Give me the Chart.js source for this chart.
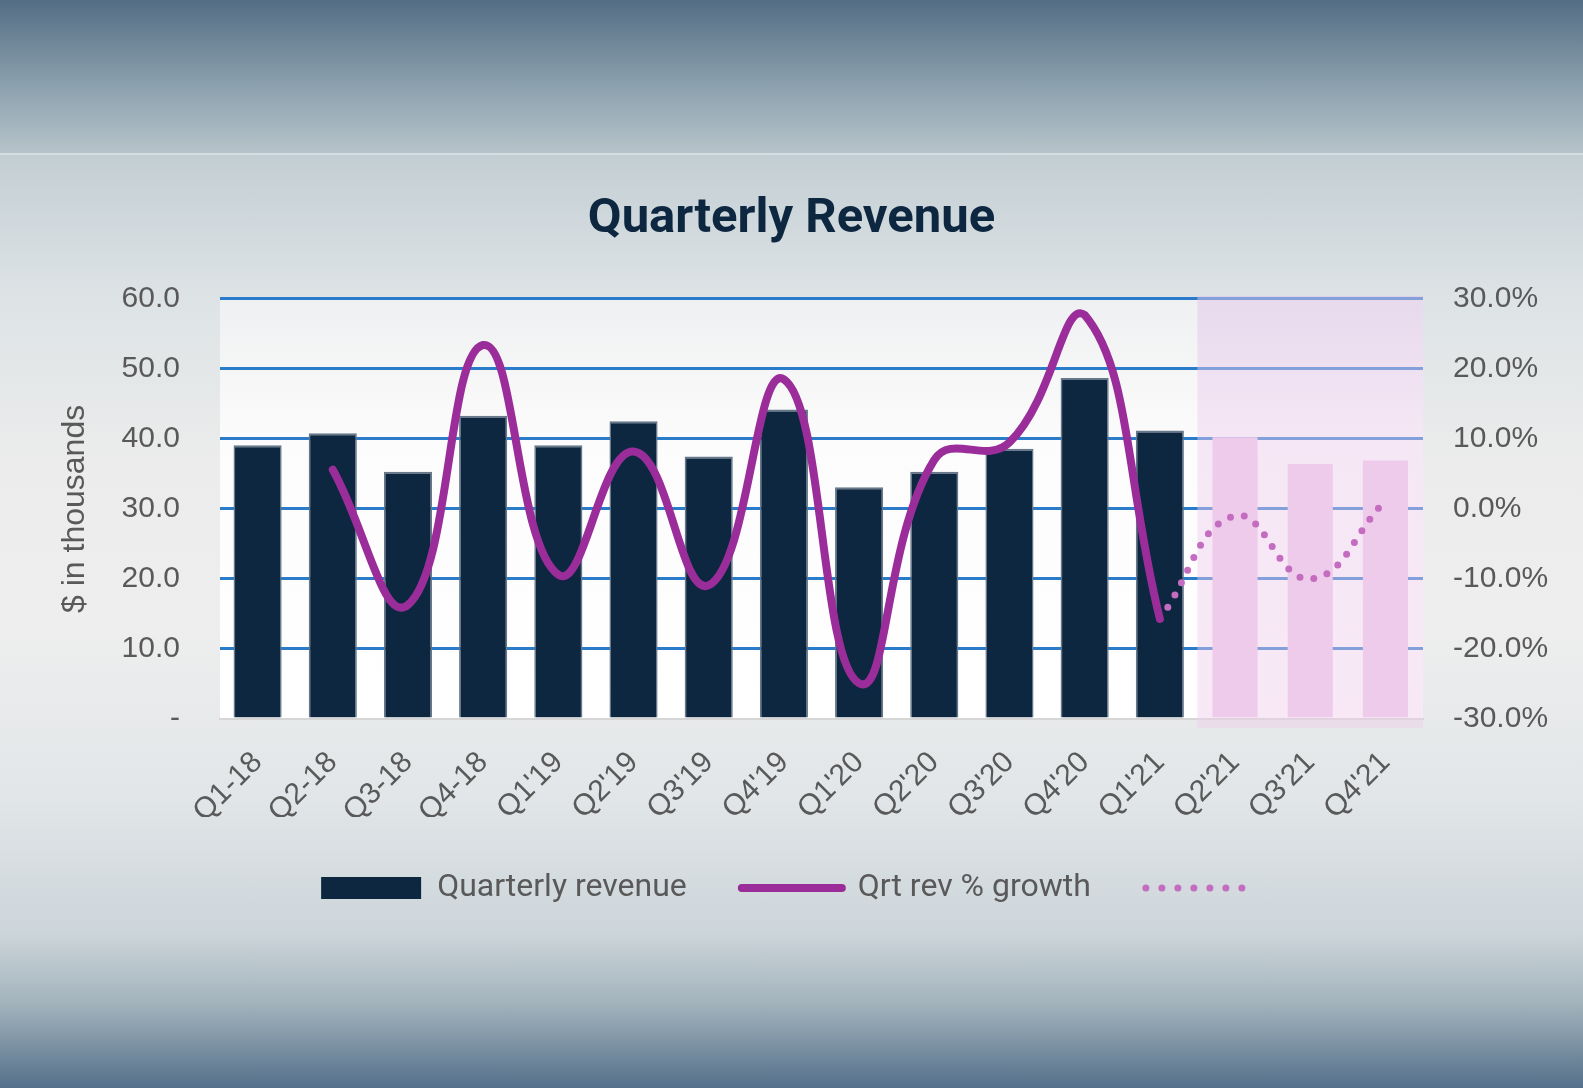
<!DOCTYPE html>
<html>
<head>
<meta charset="utf-8">
<title>Quarterly Revenue</title>
<script src="https://cdn.jsdelivr.net/npm/chart.js@4.4.1/dist/chart.umd.min.js"></script>
<style>
    html, body {
        margin: 0;
        padding: 0;
    }
    body {
        width: 1583px;
        height: 1088px;
        position: relative;
        overflow: hidden;
        background: #cbd4d9;
    }
    .band-top {
        position: absolute;
        left: 0; top: 0;
        width: 1583px; height: 153px;
        background: linear-gradient(#536d84, #8ba0ad 55%, #b6c3ca);
    }
    .panel {
        position: absolute;
        left: 0; top: 153px;
        width: 1583px; height: 781px;
        border-top: 2px solid #d3dde2;
        box-sizing: border-box;
        background: linear-gradient(#c3ced4 0%, #dde3e5 18%, #ececec 40%, #eeeeee 60%, #e2e6e8 82%, #ccd5da 100%);
    }
    .band-bottom {
        position: absolute;
        left: 0; top: 934px;
        width: 1583px; height: 154px;
        background: linear-gradient(#ccd5da, #a3b3bc 45%, #54708a);
    }
    #wrap {
        position: absolute;
        left: 0; top: 0;
        width: 1583px; height: 1088px;
    }
</style>
</head>
<body>
<div class="band-top"></div>
<div class="panel"></div>
<div class="band-bottom"></div>
<div id="wrap"><canvas id="revenueChart"></canvas></div>

<script>
// Data
const quarters = ["Q1-18", "Q2-18", "Q3-18", "Q4-18", "Q1'19", "Q2'19", "Q3'19", "Q4'19",
                  "Q1'20", "Q2'20", "Q3'20", "Q4'20", "Q1'21", "Q2'21", "Q3'21", "Q4'21"];
const revenue = [39.1, 40.8, 35.3, 43.3, 39.1, 42.5, 37.5, 44.2,
                 33.1, 35.3, 38.6, 48.7, 41.2, 40.5, 36.7, 37.2];
const growth = [null, 5.6, -13.7, 23.4, -9.4, 8.2, -10.9, 18.5,
                -24.9, 7.0, 9.5, 27.7, -15.7, null, null, null];
const growthForecast = [null, null, null, null, null, null, null, null,
                        null, null, null, null, -15.7, -1.0, -10.0, 1.2];
const revenueTicks = [0, 10, 20, 30, 40, 50, 60];
const growthTicks = [-30, -20, -10, 0, 10, 20, 30];
const firstForecast = 13;   // index of Q2'21, first projected quarter

const NAVY = '#0e2740';
const PURPLE = '#9b2d9b';
const DOTS = '#c46cc0';
const GRID = '#2b7bcb';
const TEXT = '#595959';
const CONDENSED = 'Roboto, "Noto Sans", sans-serif';
const SANS = '"Liberation Sans", Arial, sans-serif';

// plot background + shaded forecast region
const plotBackground = {
    id: 'plotBackground',
    beforeDraw(chart) {
        const {ctx, chartArea: a} = chart;
        const g = ctx.createLinearGradient(0, a.top, 0, a.bottom);
        g.addColorStop(0, '#eff0f1');
        g.addColorStop(0.35, '#fcfcfc');
        g.addColorStop(1, '#ffffff');
        ctx.save();
        ctx.fillStyle = g;
        ctx.fillRect(a.left, a.top, a.right - a.left, a.bottom - a.top);
        ctx.restore();
    },
    beforeDatasetsDraw(chart) {
        const {ctx, chartArea: a, scales: {x}} = chart;
        const left = (x.getPixelForValue(firstForecast - 1) + x.getPixelForValue(firstForecast)) / 2;
        const g = ctx.createLinearGradient(0, a.top, 0, a.bottom);
        g.addColorStop(0, 'rgba(222, 196, 232, 0.5)');
        g.addColorStop(0.3, 'rgba(238, 205, 238, 0.45)');
        g.addColorStop(1, 'rgba(240, 205, 236, 0.45)');
        ctx.save();
        ctx.fillStyle = g;
        ctx.fillRect(left, a.top - 3, a.right - left, a.bottom - a.top + 12);
        ctx.restore();
    }
};

const barColors = revenue.map((v, i) => i < firstForecast ? NAVY : '#efcbeb');
const barBorders = revenue.map((v, i) => i < firstForecast ? '#66788a' : 'rgba(0,0,0,0)');

new Chart(document.getElementById('revenueChart'), {
    type: 'bar',
    data: {
        labels: quarters,
        datasets: [
            {
                type: 'line',
                label: 'Qrt rev % growth',
                data: growth,
                yAxisID: 'y1',
                borderColor: PURPLE,
                borderWidth: 8,
                borderCapStyle: 'round',
                tension: 0.45,
                pointRadius: 0,
                order: 1
            },
            {
                type: 'line',
                label: 'Forecast growth',
                data: growthForecast,
                yAxisID: 'y1',
                borderColor: DOTS,
                borderWidth: 7,
                borderDash: [0, 14],
                borderCapStyle: 'round',
                tension: 0.45,
                pointRadius: 0,
                order: 2
            },
            {
                label: 'Quarterly revenue',
                data: revenue,
                yAxisID: 'y',
                backgroundColor: barColors,
                borderColor: barBorders,
                borderWidth: {top: 2, left: 1.5, right: 1.5, bottom: 0},
                borderSkipped: false,
                barPercentage: 0.64,
                categoryPercentage: 1,
                order: 3
            }
        ]
    },
    options: {
        responsive: true,
        maintainAspectRatio: false,
        animation: false,
        layout: {
            padding: {top: 0, left: 0, right: 0, bottom: 174}
        },
        plugins: {
            title: {
                display: true,
                text: 'Quarterly Revenue',
                color: NAVY,
                font: {family: CONDENSED, size: 49, weight: 'bold'},
                padding: {top: 190, bottom: 50}
            },
            legend: {
                position: 'bottom',
                labels: {
                    usePointStyle: true,
                    pointStyleWidth: 100,
                    boxHeight: 22,
                    padding: 55,
                    color: TEXT,
                    font: {family: CONDENSED, size: 32},
                    generateLabels: () => [
                        {text: 'Quarterly revenue', fillStyle: NAVY, strokeStyle: NAVY, fontColor: TEXT,
                         lineWidth: 0, pointStyle: 'rect', datasetIndex: 2},
                        {text: 'Qrt rev % growth', fillStyle: 'rgba(0,0,0,0)', strokeStyle: PURPLE, fontColor: TEXT,
                         lineWidth: 8, lineCap: 'round', pointStyle: 'line', datasetIndex: 0},
                        {text: '', fillStyle: 'rgba(0,0,0,0)', strokeStyle: DOTS, fontColor: TEXT,
                         lineWidth: 7, lineCap: 'round', lineDash: [0, 16], pointStyle: 'line', datasetIndex: 1}
                    ]
                }
            },
            tooltip: {enabled: false}
        },
        scales: {
            x: {
                grid: {display: false},
                border: {display: true, color: '#d6d6d6', width: 2},
                ticks: {
                    color: TEXT,
                    font: {family: SANS, size: 30},
                    maxRotation: 45,
                    minRotation: 45,
                    autoSkip: false,
                    padding: 18
                },
                afterFit: s => { s.height = 98; }
            },
            y: {
                position: 'left',
                min: revenueTicks[0],
                max: revenueTicks[revenueTicks.length - 1],
                afterBuildTicks: s => { s.ticks = revenueTicks.map(v => ({value: v})); },
                grid: {
                    color: c => c.tick.value === 0 ? 'rgba(0,0,0,0)' : GRID,
                    lineWidth: 3,
                    drawTicks: false
                },
                border: {display: false},
                ticks: {
                    color: TEXT,
                    font: {family: SANS, size: 30},
                    padding: 40,
                    callback: v => v === 0 ? '-' : v.toFixed(1)
                },
                title: {
                    display: true,
                    text: '$ in thousands',
                    color: TEXT,
                    font: {family: SANS, size: 32},
                    padding: {top: 56, bottom: 0}
                },
                afterFit: s => { s.width = 220; }
            },
            y1: {
                position: 'right',
                min: growthTicks[0],
                max: growthTicks[growthTicks.length - 1],
                afterBuildTicks: s => { s.ticks = growthTicks.map(v => ({value: v})); },
                grid: {display: false, drawTicks: false},
                border: {display: false},
                ticks: {
                    color: TEXT,
                    font: {family: SANS, size: 30},
                    padding: 30,
                    callback: v => v.toFixed(1) + '%'
                },
                afterFit: s => { s.width = 160; }
            }
        }
    },
    plugins: [plotBackground]
});
</script>
</body>
</html>
